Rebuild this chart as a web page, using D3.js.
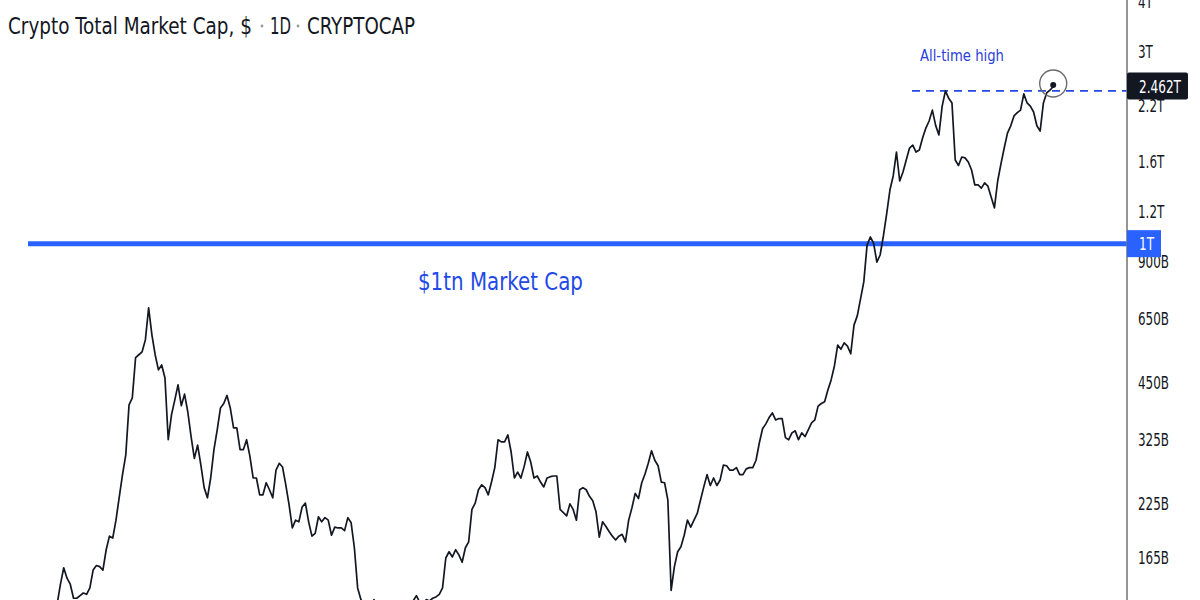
<!DOCTYPE html>
<html><head><meta charset="utf-8">
<script src="https://cdn.jsdelivr.net/npm/d3@7"></script>
<style>
html,body{margin:0;padding:0;background:#fff;}
svg{display:block;font-family:"DejaVu Sans Condensed","DejaVu Sans",sans-serif;}
</style></head>
<body>
<svg id="chart" width="1200" height="600"></svg>
<script>
// ---- data ----
const seriesStart = "2017-08-17";
const stepDays = 5;
// total crypto market cap, billions USD
const marketCapB = [
127,142,156,147,142,131,131,133,135,134,
139,154,158,157,154,173,187,185,205,234,
266,298,397,413,520,529,538,576,692,593,
529,485,499,463,325,375,408,445,395,422,
381,331,292,315,281,247,233,261,307,344,
390,400,419,390,348,348,307,307,325,296,
261,261,237,237,254,244,233,273,284,278,
251,224,196,205,203,221,226,203,187,190,
209,203,208,205,188,197,196,196,193,208,
202,175,139,130,127,129,126,130,126,128,
125,127,125,126,124,126,125,127,126,129,
133,128,126,130,129,131,132,134,139,165,
171,166,173,168,161,175,181,218,226,244,
251,247,237,255,277,325,321,321,334,303,
261,270,261,279,303,286,261,264,255,248,
261,263,264,264,218,214,210,225,218,205,
244,247,244,235,229,215,186,203,198,192,
187,183,187,189,181,205,220,239,232,254,
267,284,305,289,280,255,254,230,137,157,
171,176,188,205,197,205,213,230,248,266,
250,261,250,258,281,280,273,273,277,266,
266,275,277,277,289,319,346,356,369,379,
364,367,367,329,325,338,342,325,338,331,
344,358,364,394,400,404,432,458,496,559,
546,566,556,532,627,661,729,803,992,1039,
1003,900,937,1045,1186,1360,1474,1691,1432,1508,
1615,1730,1760,1691,1710,1833,1940,2020,2150,1970,
1865,2200,2400,2300,2240,1615,1565,1643,1635,1597,
1525,1400,1400,1375,1416,1390,1306,1228,1432,1580,
1730,1885,1965,2080,2120,2150,2360,2240,2200,2127,
1965,1906,2240,2372,2410,2462
];
const tickValuesB = [165, 225, 325, 450, 650, 900, 1200, 1600, 2200, 3000, 4000];
const tickLabels = ["165B","225B","325B","450B","650B","900B","1.2T","1.6T","2.2T","3T","4T"];
const levelB = 1000;           // $1tn line
const levelLabel = "1T";
const lastLabel = "2.462T";
const titleParts = ["Crypto Total Market Cap, $", "1D", "CRYPTOCAP"];

// ---- build ----
const parse = d3.utcParse("%Y-%m-%d");
const t0 = parse(seriesStart);
const data = marketCapB.map((v, i) => ({date: d3.utcDay.offset(t0, i * stepDays), v}));
const tEnd = data[data.length - 1].date;

const W = 1200, H = 600, axisX = 1127;
const svg = d3.select("#chart");

// squeeze a text horizontally to a given width (or factor) to mimic the narrow font
function squeeze(sel, factor, width) {
  sel.each(function () {
    const w = this.getComputedTextLength();
    const target = width != null ? width : w * factor;
    d3.select(this).attr("textLength", target).attr("lengthAdjust", "spacingAndGlyphs");
  });
}
// place a text at (x0, y0) horizontally scaled to a target width
function placeScaled(parent, str, x0, y0, width, attrs) {
  const t = parent.append("text").text(str);
  Object.entries(attrs || {}).forEach(([k, v]) => t.attr(k, v));
  const w = t.node().getComputedTextLength();
  t.attr("transform", `translate(${x0},${y0}) scale(${width / w},1)`);
  return t;
}

const x = d3.scaleUtc().domain([t0, tEnd]).range([57.2, 1053.2]);
const y = d3.scaleLog().domain([165, 3000]).range([558, 52]);

svg.append("defs").append("clipPath").attr("id", "plot")
  .append("rect").attr("x", 0).attr("y", 0).attr("width", axisX).attr("height", H);

// $1tn horizontal line
svg.append("line")
  .attr("x1", 28).attr("x2", axisX)
  .attr("y1", y(levelB)).attr("y2", y(levelB))
  .attr("stroke", "#2962ff").attr("stroke-width", 5);

// ATH dashed line
const athB = d3.max(marketCapB.slice(0, marketCapB.length - 6));
svg.append("line")
  .attr("x1", 912).attr("x2", axisX)
  .attr("y1", y(athB)).attr("y2", y(athB))
  .attr("stroke", "#2447e6").attr("stroke-width", 1.7)
  .attr("stroke-dasharray", "8,6");

// price line
const line = d3.line().x(d => x(d.date)).y(d => y(d.v));
svg.append("path").datum(data)
  .attr("clip-path", "url(#plot)")
  .attr("fill", "none").attr("stroke", "#131722")
  .attr("stroke-width", 1.7).attr("stroke-linejoin", "round")
  .attr("d", line);

// last point marker + circle
const last = data[data.length - 1];
svg.append("circle").attr("cx", x(last.date)).attr("cy", y(last.v) - 1.5).attr("r", 3).attr("fill", "#131722");
svg.append("circle").attr("cx", x(last.date)).attr("cy", y(last.v) - 3).attr("r", 13.5)
  .attr("fill", "none").attr("stroke", "#6b6b6b").attr("stroke-width", 1.4);

// annotations
placeScaled(svg, "$1tn Market Cap", 418, 290, 165, {"font-size": 25, "fill": "#2249e6"});
placeScaled(svg, "All-time high", 920, 61, 84, {"font-size": 16.5, "fill": "#2a40d8"});

// right axis
const axis = d3.axisRight(y).tickValues(tickValuesB)
  .tickFormat((d, i) => tickLabels[i]).tickSize(0).tickPadding(11);
const gA = svg.append("g").attr("transform", `translate(${axisX},0)`).call(axis);
gA.select(".domain").remove();
gA.selectAll("text").attr("font-size", 17).attr("fill", "#131722")
  .attr("font-family", "DejaVu Sans Condensed, sans-serif");
squeeze(gA.selectAll("text"), 0.78);
svg.append("line").attr("x1", axisX).attr("x2", axisX).attr("y1", 0).attr("y2", H)
  .attr("stroke", "#7a7a7a").attr("stroke-width", 1.6);

// 1T label box
const g1 = svg.append("g").attr("transform", `translate(${axisX},${y(levelB)})`);
g1.append("rect").attr("x", 0).attr("y", -13.5).attr("width", 34).attr("height", 27).attr("fill", "#2962ff");
const l1 = g1.append("text").attr("x", 12).attr("y", 6.5).attr("font-size", 18).attr("fill", "#fff").text(levelLabel);
squeeze(l1, null, 15);

// last price label box
const g2 = svg.append("g").attr("transform", `translate(${axisX},${y(last.v)})`);
g2.append("rect").attr("x", 0).attr("y", -14).attr("width", 61).attr("height", 27).attr("rx", 2).attr("fill", "#131722");
const l2 = g2.append("text").attr("x", 12).attr("y", 6.5).attr("font-size", 18).attr("fill", "#fff").text(lastLabel);
squeeze(l2, null, 42);

// title (separate pieces with light separators)
const tAttrs = {"font-size": 23, "fill": "#131722"};
placeScaled(svg, titleParts[0], 8, 34, 244, tAttrs);
svg.append("circle").attr("cx", 262).attr("cy", 26).attr("r", 1.4).attr("fill", "#9a9a9a");
placeScaled(svg, titleParts[1], 270, 34, 21, tAttrs);
svg.append("circle").attr("cx", 298).attr("cy", 26).attr("r", 1.4).attr("fill", "#9a9a9a");
placeScaled(svg, titleParts[2], 307, 34, 108, tAttrs);
</script>
</body></html>
